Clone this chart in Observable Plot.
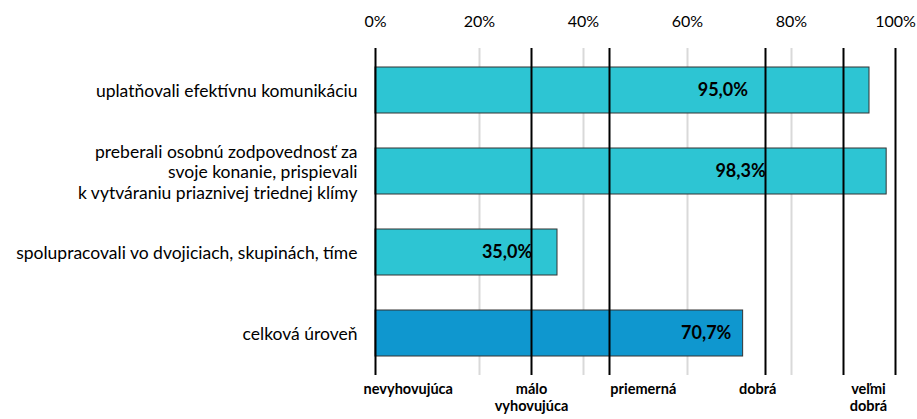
<!DOCTYPE html>
<html><head><meta charset="utf-8">
<script src="https://cdn.jsdelivr.net/npm/d3@7"></script>
<script src="https://cdn.jsdelivr.net/npm/@observablehq/plot@0.6"></script>
<style>
body{margin:0;background:#fff;}
#chart svg{font-family:Lato,"Open Sans",sans-serif;}
</style>
</head><body><div id="chart"></div>
<script>
const categories = [
  "uplatňovali efektívnu komunikáciu",
  "preberali osobnú zodpovednosť za\nsvoje konanie, prispievali\nk vytváraniu priaznivej triednej klímy",
  "spolupracovali vo dvojiciach, skupinách, tíme",
  "celková úroveň"
];
const values = [95.0, 98.3, 35.0, 70.7];
const valueLabels = ["95,0%", "98,3%", "35,0%", "70,7%"];
const valueLabelPos = [66.8, 70.2, 25.3, 63.6];
const xTicks = [0, 20, 40, 60, 80, 100];
const gridLines = [20, 40, 60, 80];
const gradeBounds = [0, 30, 45, 75, 90, 100];
const gradeNames = ["nevyhovujúca", "málo\nvyhovujúca", "priemerná", "dobrá", "veľmi\ndobrá"];
const gradeNamePos = [6.3, 30, 51.5, 73.5, 94.8];

const data = categories.map((c, i) => ({cat: c, v: values[i], label: valueLabels[i], lx: valueLabelPos[i], total: i === categories.length - 1}));
const grades = gradeNames.map((g, i) => ({g, x: gradeNamePos[i]}));

const chart = Plot.plot({
  width: 917, height: 419,
  marginLeft: 375, marginRight: 22, marginTop: 48, marginBottom: 44,
  style: {fontFamily: "Lato, 'Open Sans', sans-serif", fontSize: "13px", color: "#000"},
  x: {domain: [0, 100], axis: null},
  y: {domain: categories, paddingInner: 0.437, paddingOuter: 0.22, axis: null},
  marks: [
    Plot.ruleX(gridLines, {stroke: "#d9d9d9", strokeWidth: 2}),
    Plot.barX(data, {x: "v", y: "cat", fill: d => d.total ? "#0f97cf" : "#2dc5d3", stroke: "#333", strokeWidth: 1}),
    Plot.ruleX(gradeBounds, {stroke: "#000", strokeWidth: 2}),
    Plot.text(data, {x: "lx", y: "cat", text: "label", fontWeight: "bold", fontSize: 18, fill: "#000"}),
    Plot.axisX({anchor: "top", ticks: xTicks, tickFormat: d => d + "%", tickSize: 0, tickPadding: 22, fontSize: 16, label: null}),
    Plot.axisY({tickSize: 0, tickPadding: 18, fontSize: 17.5, lineHeight: 1.17, label: null}),
    Plot.text(grades, {x: "x", frameAnchor: "bottom", text: "g", lineAnchor: "top", dy: 7, fontWeight: "bold", fontSize: 14.5, lineHeight: 1.15})
  ]
});
document.getElementById("chart").appendChild(chart);
</script></body></html>
